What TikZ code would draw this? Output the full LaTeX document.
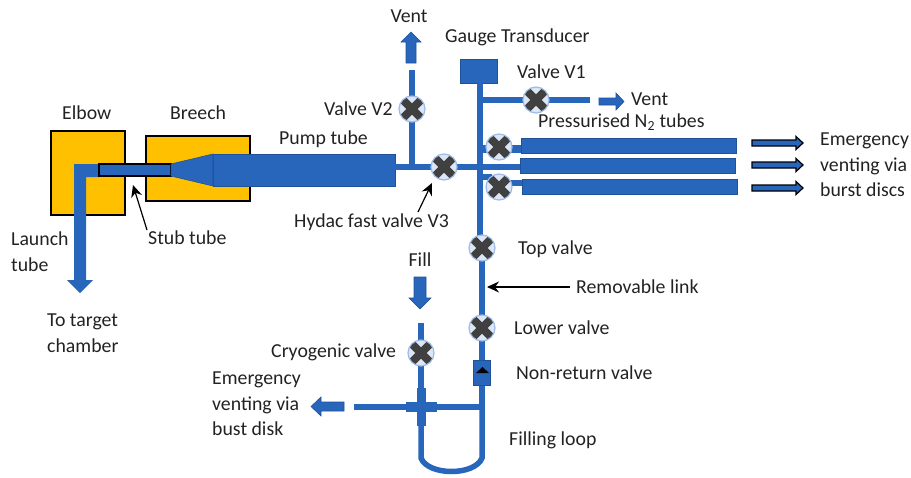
\documentclass[tikz,border=0pt]{standalone}
\usepackage{fontspec}
\setmainfont{Carlito}
\usetikzlibrary{arrows.meta,calc}
\definecolor{pipe}{HTML}{2866BC}
\definecolor{pipedk}{HTML}{1F5299}
\definecolor{ambr}{HTML}{FFC000}
\definecolor{valvefill}{HTML}{DCE6F5}
\definecolor{valveedge}{HTML}{9DBBE6}
\definecolor{crossc}{HTML}{404040}
\definecolor{txt}{HTML}{222222}
\tikzset{
 x=1pt,y=-1pt,
 lab/.style={inner sep=0pt,font=\fontsize{19.8}{25.3}\selectfont,text=txt,align=left},
 pipeline/.style={draw=pipe,line width=5.5pt},
 tank/.style={fill=pipe,draw=pipedk,line width=0.7pt,inner sep=0pt,minimum width=0pt,rectangle},
 amberbox/.style={fill=ambr,draw=black,line width=1.3pt,inner sep=0pt,rectangle},
 valve/.style={circle,fill=valvefill,draw=valveedge,line width=1.2pt,minimum size=26pt,inner sep=0pt,
   path picture={\draw[crossc,line width=8pt] ($(path picture bounding box.center)+(-9.5,-9.5)$)--($(path picture bounding box.center)+(9.5,9.5)$);
   \draw[crossc,line width=8pt] ($(path picture bounding box.center)+(-9.5,9.5)$)--($(path picture bounding box.center)+(9.5,-9.5)$);}},
 pointer/.style={draw=black,line width=1.2pt,-{Stealth[length=12pt,width=11pt]}},
 blockarrow/.style={fill=pipe,draw=pipedk,line width=0.6pt},
 ventarrow/.style={fill=pipe,draw=black,line width=1.2pt},
}
\begin{document}
\begin{tikzpicture}
\useasboundingbox (0,0) rectangle (911,477);
% amber bodies
\node[amberbox,minimum width=74pt,minimum height=84pt] (elbow) at (88,173) {};
\node[amberbox,minimum width=104pt,minimum height=65pt] (breech) at (198,168.5) {};
% launch tube
\fill[pipe] (74,164)--(99,164)--(99,177)--(86,177)--(86,280)--(93,280)--(80,293)--(67,280)--(74,280)--cycle;
% stub and cone
\node[fill=pipe,draw=black,line width=1.2pt,minimum width=72pt,minimum height=12pt,inner sep=0pt] (stub) at (135,170) {};
\node[tank,minimum width=182pt,minimum height=32pt] (pump) at (304,170) {};
\path[fill=pipe,draw=pipedk,line width=0.6pt] (171,164)--(213,154)--(213,186)--(171,176)--cycle;
% tanks and gauge
\node[tank,minimum width=215pt,minimum height=15pt] (T1) at (628.5,145.5) {};
\node[tank,minimum width=215pt,minimum height=15pt] (T2) at (627.5,165.5) {};
\node[tank,minimum width=215pt,minimum height=15pt] (T3) at (629.5,186.5) {};
\node[tank,minimum width=37pt,minimum height=24pt] (gauge) at (478.5,71) {};
% junction coordinates
\coordinate (j1) at (412,167);
\coordinate (jg) at (480,83);
\coordinate (jv1) at (480,100);
\coordinate (jm) at (480,167);
\coordinate (jth) at (477,149);
\coordinate (jb) at (480,177);
\coordinate (jbv) at (492,177);
\coordinate (jbr) at (505,183);
\coordinate (jstop) at (590,100);
\coordinate (v2end) at (412,70);
\coordinate (cryotop) at (421,323);
\coordinate (cross) at (421,407);
\coordinate (jl) at (482,407);
\coordinate (lineend) at (354,407);
\coordinate (loopL) at (421,426);
% pipes (drawn under the valves)
\draw[pipeline] (pump.east|-j1)--(j1)--(T2.west|-j1);
\draw[pipeline] (j1)--(v2end);
\draw[pipeline] (jg)--(jm)--(480,240);
\draw[pipeline] (jv1)--(jstop);
\draw[pipe,line width=8pt] (jth)--(jth-|T1.west);
\draw[pipeline] (jb)--(jbv);
\draw[pipeline] (jbr)--(jbr-|T3.west);
\draw[pipeline] (482,248)--(482,360);
\draw[pipeline] (482,372)--(jl);
\draw[pipeline] (cryotop)--(cross);
\draw[pipeline] (lineend)--(jl);
\draw[pipeline] (jl)--(482,458) .. controls (475,476) and (428,476) .. (421,458)--(loopL);
\node[fill=pipe,minimum width=31pt,minimum height=10pt,inner sep=0pt] (crossH) at (cross) {};
\node[fill=pipe,minimum width=9pt,minimum height=38pt,inner sep=0pt] (crossV) at (cross) {};
\node[tank,minimum width=17pt,minimum height=25pt] (nrv) at (481.5,372.5) {};
\fill[black] (482.5,367)--(489,373)--(476,373)--cycle;
% valves
\node[valve] (V3) at (444,167) {};
\node[valve] (V2) at (412,109) {};
\node[valve] (V1) at (536,100) {};
\node[valve] (VA) at (499,147) {};
\node[valve] (VB) at (499,187) {};
\node[valve] (top) at (482,248) {};
\node[valve] (low) at (482,328) {};
\node[valve] (cryo) at (421,353) {};
% block arrows
\path[blockarrow] (406,63)--(406,42)--(401,42)--(411,32)--(421,42)--(416,42)--(416,63)--cycle;
\path[blockarrow] (599,98)--(616,98)--(616,93)--(624,101.5)--(616,110)--(616,105)--(599,105)--cycle;
\path[blockarrow] (414,277)--(426,277)--(426,298)--(431,298)--(420,309)--(409,298)--(414,298)--cycle;
\path[blockarrow] (344,402)--(321,402)--(321,397)--(311,406.5)--(321,416)--(321,411)--(344,411)--cycle;
\foreach \yy in {143,165,188}{
 \path[ventarrow] (752,\yy-3)--(796,\yy-3)--(796,\yy-6.5)--(803,\yy)--(796,\yy+6.5)--(796,\yy+3)--(752,\yy+3)--cycle;
}
% texts
\node[lab,anchor=west] (tElbow) at (62,113) {Elbow};
\node[lab,anchor=west] (tBreech) at (170,113) {Breech};
\node[lab,anchor=west] (tPump) at (279,139) {Pump tube};
\node[lab,anchor=center] (tVent) at (409,16) {Vent};
\node[lab,anchor=west] (tGauge) at (445,37) {Gauge Transducer};
\node[lab,anchor=west] (tV1) at (517,72) {Valve V1};
\node[lab,anchor=west] (tV2) at (324,109) {Valve V2};
\node[lab,anchor=west] (tVent2) at (631,99) {Vent};
\node[lab,anchor=west] (tN2) at (538,122) {Pressurised N\textsubscript{2} tubes};
\node[lab,anchor=north west] (tEm) at (820,133) {Emergency\\venting via\\burst discs};
\node[lab,anchor=west] (tV3) at (294,222) {Hydac fast valve V3};
\node[lab,anchor=west] (tStub) at (148,238) {Stub tube};
\node[lab,anchor=north west] (tLaunch) at (11,232) {Launch\\tube};
\node[lab,anchor=north west] (tTarget) at (47,314) {To target\\chamber};
\node[lab,anchor=west] (tTop) at (518,249) {Top valve};
\node[lab,anchor=west] (tRem) at (576,287) {Removable link};
\node[lab,anchor=west] (tLow) at (514,328) {Lower valve};
\node[lab,anchor=west] (tNR) at (516,373) {Non-return valve};
\node[lab,anchor=center] (tFill) at (420,260) {Fill};
\node[lab,anchor=west] (tCryo) at (271,352) {Cryogenic valve};
\node[lab,anchor=north west] (tEm2) at (212,372) {Emergency\\venting via\\bust disk};
\node[lab,anchor=west] (tLoop) at (509,440) {Filling loop};
% pointers
\coordinate (pStub) at (133,185);
\coordinate (qStub) at (147,230);
\coordinate (pV3) at (432,183);
\coordinate (qV3) at (418,212);
\coordinate (pRem) at (487,287);
\coordinate (qRem) at (570,287);
\draw[pointer] (qStub)--(pStub);
\draw[pointer] (qV3)--(pV3);
\draw[pointer] (qRem)--(pRem);
\end{tikzpicture}
\end{document}
